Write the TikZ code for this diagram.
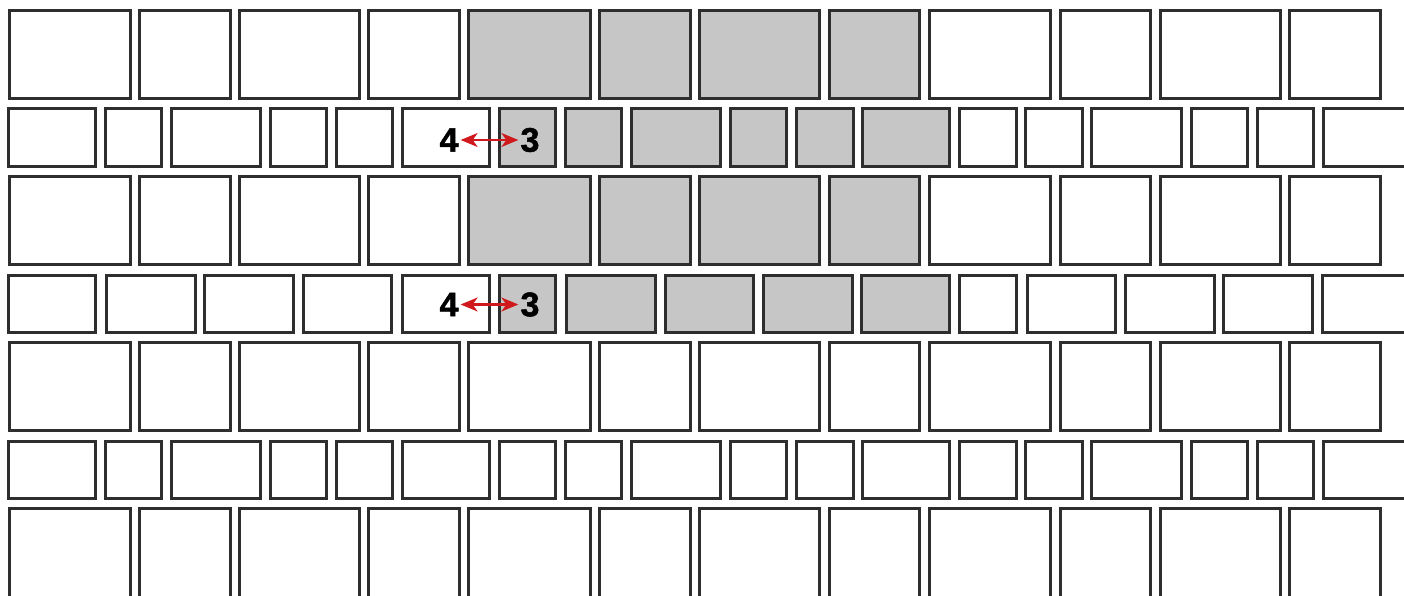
\documentclass[tikz,border=0pt]{standalone}
\usepackage{fontspec}
\newfontfamily\digitfont{Liberation Sans}[BoldFeatures={FakeBold=1.6}]
\usetikzlibrary{arrows.meta}
\definecolor{edge}{HTML}{2E2E2E}
\definecolor{shade}{HTML}{C6C6C6}
\definecolor{arrowred}{HTML}{D0191C}
\tikzset{
  brick/.style={draw=edge, line width=3pt, fill=white},
  graybrick/.style={brick, fill=shade},
  digit/.style={font=\digitfont\bfseries\fontsize{34}{34}\selectfont, inner sep=2pt, text=black},
  swaparrow/.style={draw=arrowred, line width=2.2pt, {Stealth[length=17pt,width=14pt,inset=5pt]}-{Stealth[length=17pt,width=14pt,inset=5pt]}}
}
\begin{document}
\begin{tikzpicture}[x=1pt,y=-1pt]
\useasboundingbox (0,0) rectangle (1404,596);
\clip (0,0) rectangle (1404,596);
\fill[white] (0,0) rectangle (1404,596);
% large rows
\foreach \ya/\yb [count=\r] in {9/100,175/266,341/432,507/640}{
  \foreach \xa/\xb [count=\i] in {8/132,138/232,238/361,367/461,467/592,598/692,698/821,828/921,928/1052,1059/1152,1159/1282,1288/1382}{
    \pgfmathtruncatemacro\isgray{(\r<3)&&(\i>4)&&(\i<9)}
    \ifnum\isgray=1
      \draw[graybrick] (\xa+1.5,\ya+1.5) rectangle (\xb-1.5,\yb-1.5);
    \else
      \draw[brick] (\xa+1.5,\ya+1.5) rectangle (\xb-1.5,\yb-1.5);
    \fi
  }
}
% small rows, pattern A (rows 2 and 6)
\foreach \ya/\yb [count=\r] in {107/168,440/500}{
  \foreach \xa/\xb [count=\i] in {7/97,104/163,170/262,269/328,335/394,401/491,498/557,564/623,630/722,729/788,795/855,861/951,958/1018,1024/1084,1090/1183,1190/1249,1256/1315,1322/1440}{
    \pgfmathtruncatemacro\isgray{(\r==1)&&(\i>6)&&(\i<13)}
    \ifnum\isgray=1
      \draw[graybrick] (\xa+1.5,\ya+1.5) rectangle (\xb-1.5,\yb-1.5);
    \else
      \draw[brick] (\xa+1.5,\ya+1.5) rectangle (\xb-1.5,\yb-1.5);
    \fi
  }
}
% small row, pattern B (row 4)
\foreach \xa/\xb [count=\i] in {7/97,105/197,203/295,302/393,401/491,498/557,565/657,664/755,762/854,860/951,958/1018,1026/1117,1124/1216,1222/1314,1321/1440}{
  \pgfmathtruncatemacro\isgray{(\i>5)&&(\i<11)}
  \ifnum\isgray=1
    \draw[graybrick] (\xa+1.5,275.5) rectangle (\xb-1.5,332.5);
  \else
    \draw[brick] (\xa+1.5,275.5) rectangle (\xb-1.5,332.5);
  \fi
}
% labels and arrows
\node[digit] (fourA) at (449,140) {4};
\node[digit] (threeA) at (530,140) {3};
\draw[swaparrow] (fourA.east) -- (threeA.west);
\node[digit] (fourB) at (449,304.5) {4};
\node[digit] (threeB) at (530,304.5) {3};
\draw[swaparrow] (fourB.east) -- (threeB.west);
\end{tikzpicture}
\end{document}
